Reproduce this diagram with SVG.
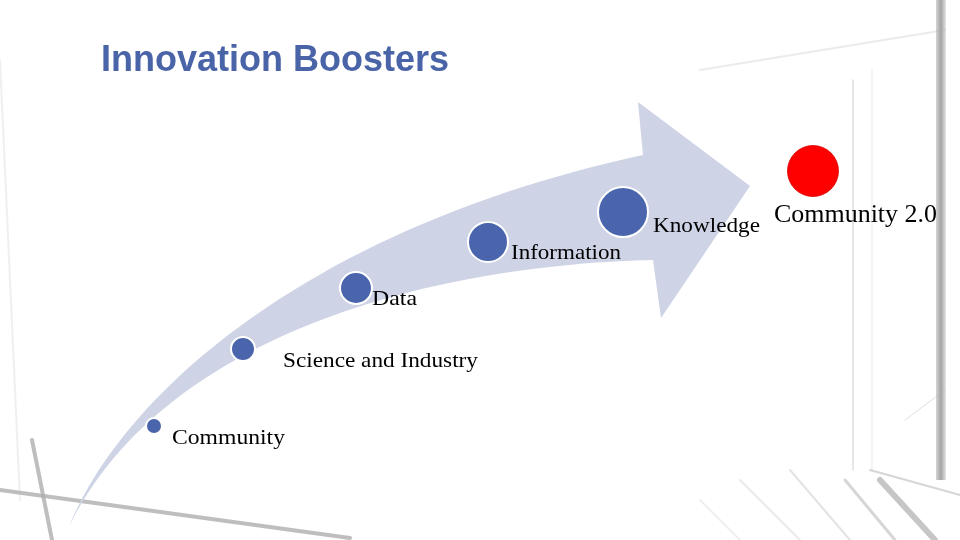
<svg xmlns="http://www.w3.org/2000/svg" width="960" height="540" viewBox="0 0 960 540">
<defs>
<style>
.bg{fill:#ffffff}
.photo{fill:none;stroke:#9a9a9a;stroke-linecap:round}
.arrow{fill:#CED3E5}
.dot{fill:#4A65AC;stroke:#ffffff;stroke-width:2}
.lbl{font-family:"Liberation Serif","DejaVu Serif",serif;font-size:21px;fill:#000000}
.title{font-family:"Liberation Sans",Arial,sans-serif;font-weight:bold;font-size:36px;fill:#4A64A8}
</style>
<linearGradient id="barGrad" x1="0" y1="0" x2="1" y2="0">
<stop offset="0" stop-color="#bdbdbd"/>
<stop offset="0.5" stop-color="#6f6f6f"/>
<stop offset="1" stop-color="#d8d8d8"/>
</linearGradient>
</defs>
<rect class="bg" x="0" y="0" width="960" height="540"/>
<g id="background" opacity="0.8">
<rect x="936" y="0" width="10" height="480" fill="url(#barGrad)" opacity="0.8"/>
<line class="photo" x1="853" y1="80" x2="853" y2="470" stroke-width="1.5" opacity="0.4"/>
<line class="photo" x1="872" y1="70" x2="872" y2="470" stroke-width="1" opacity="0.3"/>
<line class="photo" x1="700" y1="70" x2="945" y2="30" stroke-width="2" opacity="0.25"/>
<line class="photo" x1="0" y1="490" x2="350" y2="538" stroke-width="4" opacity="0.8"/>
<line class="photo" x1="32" y1="440" x2="52" y2="540" stroke-width="4" opacity="0.8"/>
<line class="photo" x1="0" y1="60" x2="20" y2="500" stroke-width="2" opacity="0.2"/>
<line class="photo" x1="870" y1="470" x2="960" y2="495" stroke-width="2" opacity="0.5"/>
<line class="photo" x1="880" y1="480" x2="935" y2="540" stroke-width="6" opacity="0.7"/>
<line class="photo" x1="845" y1="480" x2="895" y2="540" stroke-width="3" opacity="0.5"/>
<line class="photo" x1="790" y1="470" x2="850" y2="540" stroke-width="2" opacity="0.35"/>
<line class="photo" x1="740" y1="480" x2="800" y2="540" stroke-width="2" opacity="0.25"/>
<line class="photo" x1="700" y1="500" x2="740" y2="540" stroke-width="2" opacity="0.2"/>
<line class="photo" x1="905" y1="420" x2="945" y2="390" stroke-width="1" opacity="0.4"/>
</g>
<text class="title" x="101" y="71">Innovation Boosters</text>
<g id="connectors">
<path class="arrow" d="M69,527 C120,400 300,230 643,155 L638,102 L750,186 L661,318 L653,260 C420,265 160,340 69,527 Z"/>
</g>
<g id="node-community">
<circle class="dot" cx="154" cy="426" r="8"/>
<text class="lbl" x="172" y="444" textLength="113" lengthAdjust="spacingAndGlyphs">Community</text>
</g>
<g id="node-science">
<circle class="dot" cx="243" cy="349" r="12"/>
<text class="lbl" x="283" y="367" textLength="195" lengthAdjust="spacingAndGlyphs">Science and Industry</text>
</g>
<g id="node-data">
<circle class="dot" cx="356" cy="288" r="16"/>
<text class="lbl" x="372" y="305" textLength="45" lengthAdjust="spacingAndGlyphs">Data</text>
</g>
<g id="node-information">
<circle class="dot" cx="488" cy="242" r="20"/>
<text class="lbl" x="511" y="259" textLength="110" lengthAdjust="spacingAndGlyphs">Information</text>
</g>
<g id="node-knowledge">
<circle class="dot" cx="623" cy="212" r="25"/>
<text class="lbl" x="653" y="232" textLength="107" lengthAdjust="spacingAndGlyphs">Knowledge</text>
</g>
<g id="node-community20">
<circle cx="813" cy="171" r="25.5" fill="#FF0000" stroke="#d80000" stroke-width="0.8"/>
<text class="lbl" x="774" y="222" style="font-size:25px" textLength="163" lengthAdjust="spacingAndGlyphs">Community 2.0</text>
</g>
</svg>
